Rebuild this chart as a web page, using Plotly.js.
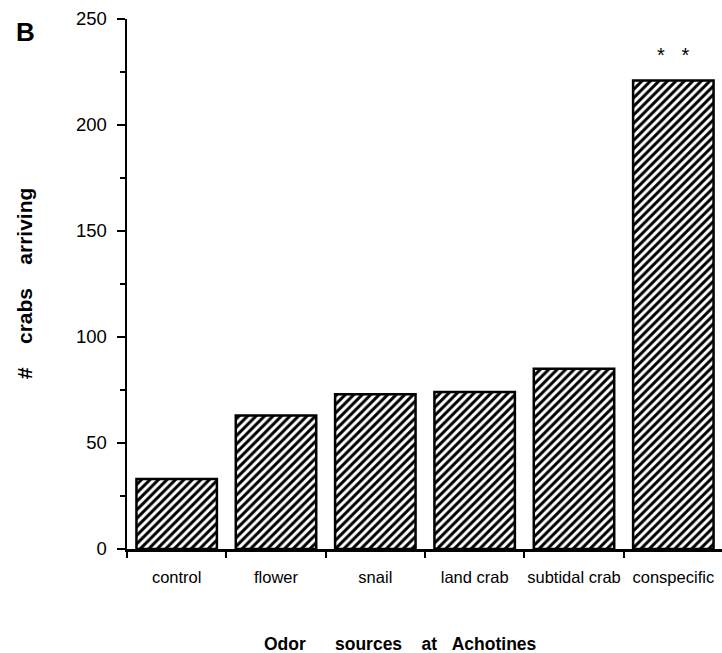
<!DOCTYPE html>
<html>
<head>
<meta charset="utf-8">
<script src="https://cdn.plot.ly/plotly-3.0.1.min.js"></script>
<style>html,body{margin:0;padding:0;background:#fff;}#chart{width:722px;height:653px;}</style>
</head>
<body>
<div id="chart"></div>
<script>
var categories = ["control", "flower", "snail", "land crab", "subtidal crab", "conspecific"];
var crabsArriving = [33, 63, 73, 74, 85, 221];
var yTickValues = [0, 50, 100, 150, 200, 250];
var yTickLabels = ["0", "50", "100", "150", "200", "250"];
var significance = "*\u00a0\u00a0\u00a0*";

var trace = {
  type: "bar",
  x: categories,
  y: crabsArriving,
  width: 0.81,
  marker: {
    color: "#ffffff",
    line: {color: "#000000", width: 2.5},
    pattern: {shape: "/", fgcolor: "#000000", bgcolor: "#ffffff", size: 6, solidity: 0.5}
  },
  hoverinfo: "skip"
};

var nb = function (n) { return "\u00a0".repeat(n); };

var layout = {
  width: 722, height: 653,
  margin: {l: 127, r: 0, t: 19, b: 104, pad: 0},
  paper_bgcolor: "#ffffff", plot_bgcolor: "#ffffff",
  showlegend: false,
  font: {family: "Liberation Sans, Arial, Helvetica, sans-serif", color: "#000000"},
  xaxis: {
    type: "category",
    range: [-0.5, 5.49],
    showline: true, linecolor: "#000000", linewidth: 2.5,
    ticks: "outside", tickson: "boundaries", ticklen: 6, tickwidth: 2, tickcolor: "#000000",
    showgrid: false, zeroline: false,
    tickangle: 0,
    tickfont: {size: 16.5, family: "Liberation Sans, Arial, sans-serif"},
    ticklabelstandoff: 12,
    fixedrange: true
  },
  yaxis: {
    range: [0, 250],
    showline: true, linecolor: "#000000", linewidth: 2.5,
    ticks: "outside", ticklen: 8, tickwidth: 2, tickcolor: "#000000",
    tickvals: yTickValues, ticktext: yTickLabels,
    minor: {dtick: 25, ticks: "outside", ticklen: 5, tickwidth: 1.5, tickcolor: "#000000", showgrid: false},
    showgrid: false, zeroline: false,
    tickfont: {size: 18.5, family: "Liberation Sans, Arial, sans-serif"},
    ticklabelstandoff: 6,
    fixedrange: true
  },
  annotations: [
    {text: "<b>B</b>", xref: "paper", yref: "paper", x: -0.171, y: 0.975, xanchor: "center", yanchor: "middle", showarrow: false, font: {size: 26, family: "Liberation Sans, Arial, sans-serif"}},
    {text: "<b>#" + nb(4) + "crabs" + nb(4) + "arriving</b>", xref: "paper", yref: "paper", x: -0.173, y: 0.5, xanchor: "center", yanchor: "middle", textangle: -90, showarrow: false, font: {size: 21, family: "Liberation Sans, Arial, sans-serif"}},
    {text: "<b>Odor" + nb(6) + "sources" + nb(4) + "at" + nb(3) + "Achotines</b>", xref: "paper", yref: "paper", x: 0.459, y: -0.179, xanchor: "center", yanchor: "middle", showarrow: false, font: {size: 17.5, family: "Liberation Sans, Arial, sans-serif"}},
    {text: significance, xref: "x", yref: "y", x: 5, y: 233, xanchor: "center", yanchor: "middle", showarrow: false, font: {size: 20, family: "Liberation Sans, Arial, sans-serif"}}
  ]
};

Plotly.newPlot("chart", [trace], layout, {displayModeBar: false, staticPlot: true});
</script>
</body>
</html>
